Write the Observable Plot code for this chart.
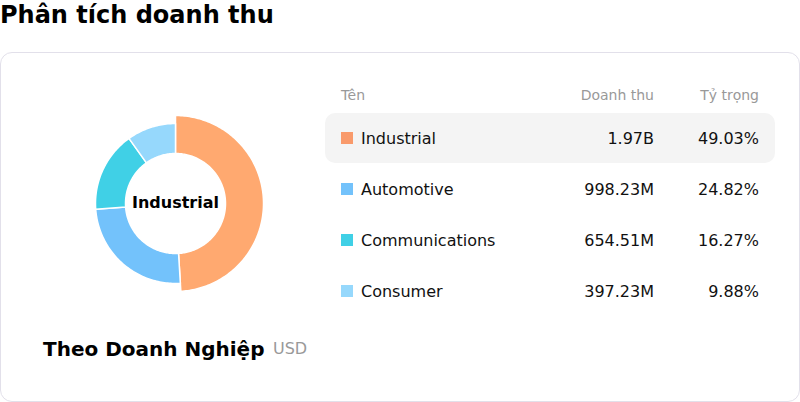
<!DOCTYPE html>
<html>
<head>
<meta charset="utf-8">
<script src="https://cdn.jsdelivr.net/npm/d3@7"></script>
<script src="https://cdn.jsdelivr.net/npm/@observablehq/plot@0.6"></script>
<style>
  html, body { margin: 0; padding: 0; background: #fff; font-family: "DejaVu Sans", sans-serif; }
  #page { position: relative; width: 800px; height: 402px; overflow: hidden; }
  .abs { position: absolute; white-space: nowrap; }
  #title { left: 0; top: 0; font-size: 24px; font-weight: bold; color: #000; line-height: 30px; }
  #card { left: 0; top: 52px; width: 798px; height: 348px; border: 1px solid #e2e0ea; border-radius: 12px; }
  #chart { left: 65px; top: 93px; }
  .hdr { font-size: 14px; color: #999; line-height: 16px; }
  .cell { font-size: 16px; color: #111; line-height: 18px; }
  .sw { width: 12px; height: 12px; }
  #hl { left: 325px; top: 113px; width: 450px; height: 50px; background: #f4f4f4; border-radius: 10px; }
  #foot { left: 43px; top: 337px; font-size: 20px; font-weight: bold; color: #000; line-height: 24px; }
  #unit { left: 273px; top: 340px; font-size: 16px; color: #999; line-height: 18px; }
</style>
</head>
<body>
<div id="page">
  <div id="title" class="abs">Phân tích doanh thu</div>
  <div id="card" class="abs"></div>
  <div id="hl" class="abs"></div>
  <div id="chart" class="abs"></div>
  <div id="foot" class="abs">Theo Doanh Nghiệp</div>
  <div id="unit" class="abs">USD</div>
</div>
<script>
// ---- data ----
const names = ["Industrial", "Automotive", "Communications", "Consumer"];
const revenueMillions = [1970, 998.23, 654.51, 397.23];
const sharePct = [49.03, 24.82, 16.27, 9.88];
const colors = ["#FFA970", "#73C2FB", "#40D0E6", "#96D8FC"];
const swatchColors = ["#F99A6B", "#73C2FB", "#40D0E6", "#96D8FC"];
const headers = ["Tên", "Doanh thu", "Tỷ trọng"];
const highlighted = "Industrial";

// ---- geometry for donut slices (built from shares) ----
const innerR = 50, outerR = 80, outerHi = 88;
const total = d3.sum(sharePct);
const pts = [];
let acc = 0;
names.forEach((n, i) => {
  const a0 = acc / total * 2 * Math.PI;
  acc += sharePct[i];
  const a1 = acc / total * 2 * Math.PI;
  const ro = n === highlighted ? outerHi : outerR;
  const steps = Math.max(8, Math.ceil((a1 - a0) / 0.02));
  for (let k = 0; k <= steps; k++) {
    const a = a0 + (a1 - a0) * k / steps;
    pts.push({name: n, x: ro * Math.sin(a), y: ro * Math.cos(a)});
  }
  for (let k = steps; k >= 0; k--) {
    const a = a0 + (a1 - a0) * k / steps;
    pts.push({name: n, x: innerR * Math.sin(a), y: innerR * Math.cos(a)});
  }
});

const chart = Plot.plot({
  width: 220,
  height: 220,
  margin: 0,
  x: {domain: [-110, 110], axis: null},
  y: {domain: [-110, 110], axis: null},
  color: {domain: names, range: colors},
  style: {fontFamily: "DejaVu Sans", background: "transparent"},
  marks: [
    Plot.line(pts, {x: "x", y: "y", z: "name", fill: "name", stroke: "white", strokeWidth: 1.5, curve: "linear-closed"}),
    Plot.text([highlighted], {x: () => 0, y: () => 0, dy: -1, text: d => d, fontSize: 16, fontWeight: "bold", fill: "#000"})
  ]
});
document.getElementById("chart").appendChild(chart);

// ---- table ----
const page = document.getElementById("page");
function addText(txt, cls, left, right, cy, lh) {
  const el = document.createElement("div");
  el.className = "abs " + cls;
  el.textContent = txt;
  el.style.top = (cy - lh / 2) + "px";
  if (left != null) el.style.left = left + "px";
  if (right != null) { el.style.right = (800 - right) + "px"; el.style.textAlign = "right"; }
  page.appendChild(el);
}
const fmtRev = v => v >= 1000 ? (v / 1000).toFixed(2) + "B" : v.toFixed(2) + "M";
addText(headers[0], "hdr", 341, null, 95, 16);
addText(headers[1], "hdr", null, 654, 95, 16);
addText(headers[2], "hdr", null, 759, 95, 16);
names.forEach((n, i) => {
  const cy = 138 + 51 * i;
  const sw = document.createElement("div");
  sw.className = "abs sw";
  sw.style.left = "341px";
  sw.style.top = (cy - 6) + "px";
  sw.style.background = swatchColors[i];
  page.appendChild(sw);
  addText(n, "cell", 361, null, cy + 1, 18);
  addText(fmtRev(revenueMillions[i]), "cell", null, 654, cy + 1, 18);
  addText(sharePct[i].toFixed(2) + "%", "cell", null, 759, cy + 1, 18);
});
</script>
</body>
</html>
